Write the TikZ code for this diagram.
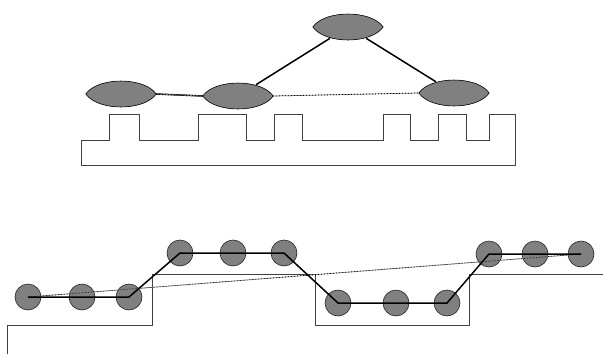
\documentclass[tikz,border=0pt]{standalone}
\usetikzlibrary{shapes.geometric,calc}
\begin{document}
\begin{tikzpicture}[x=1pt,y=-1pt,
  lensanchor/.style={ellipse,draw=none,inner sep=0pt,minimum width=70pt,minimum height=26pt},
  lensbody/.style={fill=black!50,draw=black,line width=0.6pt},
  ball/.style={circle,fill=black!50,draw=black!85,line width=0.6pt,inner sep=0pt,minimum size=26pt},
  outline/.style={draw=black!75,line width=0.8pt},
  strongedge/.style={draw=black,line width=1.5pt},
  weakedge/.style={draw=black!55,line width=0.7pt},
  weakdots/.style={draw=black,line width=0.8pt,dash pattern=on 0.7pt off 2.3pt}
]
\useasboundingbox (0,0) rectangle (603,354);

% ---- upper structure: lens-shaped nodes over a toothed base ----
\node[lensanchor] (top) at (348,27) {};
\node[lensanchor] (lft) at (121,94) {};
\node[lensanchor] (mid) at (238,96) {};
\node[lensanchor] (rgt) at (454,93) {};

\draw[outline] (81.7,165) -- (81.7,140) -- (109.3,140) -- (109.3,114) -- (139.3,114)
  -- (139.3,140) -- (198.3,140) -- (198.3,114) -- (246,114) -- (246,140)
  -- (274,140) -- (274,114) -- (302.3,114) -- (302.3,140) -- (383.3,140)
  -- (383.3,114) -- (410.7,114) -- (410.7,140) -- (438.3,140) -- (438.3,114)
  -- (466.7,114) -- (466.7,140) -- (489.3,140) -- (489.3,114) -- (515,114)
  -- (515,165) -- cycle;

\draw[strongedge] (top) -- (mid);
\draw[strongedge] (top) -- (rgt);
\draw[strongedge] (lft.east) -- (mid.west);
\draw[weakedge] (lft.east) -- (mid.west);
\draw[weakdots] (lft.east) -- (mid.west);
\draw[weakedge] (mid.east) -- (rgt.west);
\draw[weakdots] (mid.east) -- (rgt.west);

\foreach \n in {top,lft,mid,rgt}
  \draw[lensbody] (\n.west) .. controls +(12,-17.3) and +(-12,-17.3) .. (\n.east)
                           .. controls +(-12,17.3) and +(12,17.3) .. (\n.west) -- cycle;

% ---- lower structure: stepped profile with a chain of balls ----
\draw[outline] (7,354) -- (7,325) -- (152,325) -- (152,274) -- (315,274)
  -- (315,325) -- (469,325) -- (469,274) -- (603,274);

\node[ball] (b1) at (28,297) {};
\node[ball] (b2) at (82,297) {};
\node[ball] (b3) at (129,297) {};
\node[ball] (b4) at (180,253) {};
\node[ball] (b5) at (233,253) {};
\node[ball] (b6) at (284,253) {};
\node[ball] (b7) at (338,303) {};
\node[ball] (b8) at (396,303) {};
\node[ball] (b9) at (447,303) {};
\node[ball] (b10) at (489,254) {};
\node[ball] (b11) at (535,254) {};
\node[ball] (b12) at (581,254) {};

\draw[weakedge] (b1.center) -- (b12.center);
\draw[weakdots] (b1.center) -- (b12.center);
\draw[strongedge,line join=miter] (b1.center) -- (b3.center) -- (b4.center) -- (b6.center)
  -- (b7.center) -- (b9.center) -- (b10.center) -- (b12.center);
\end{tikzpicture}
\end{document}
